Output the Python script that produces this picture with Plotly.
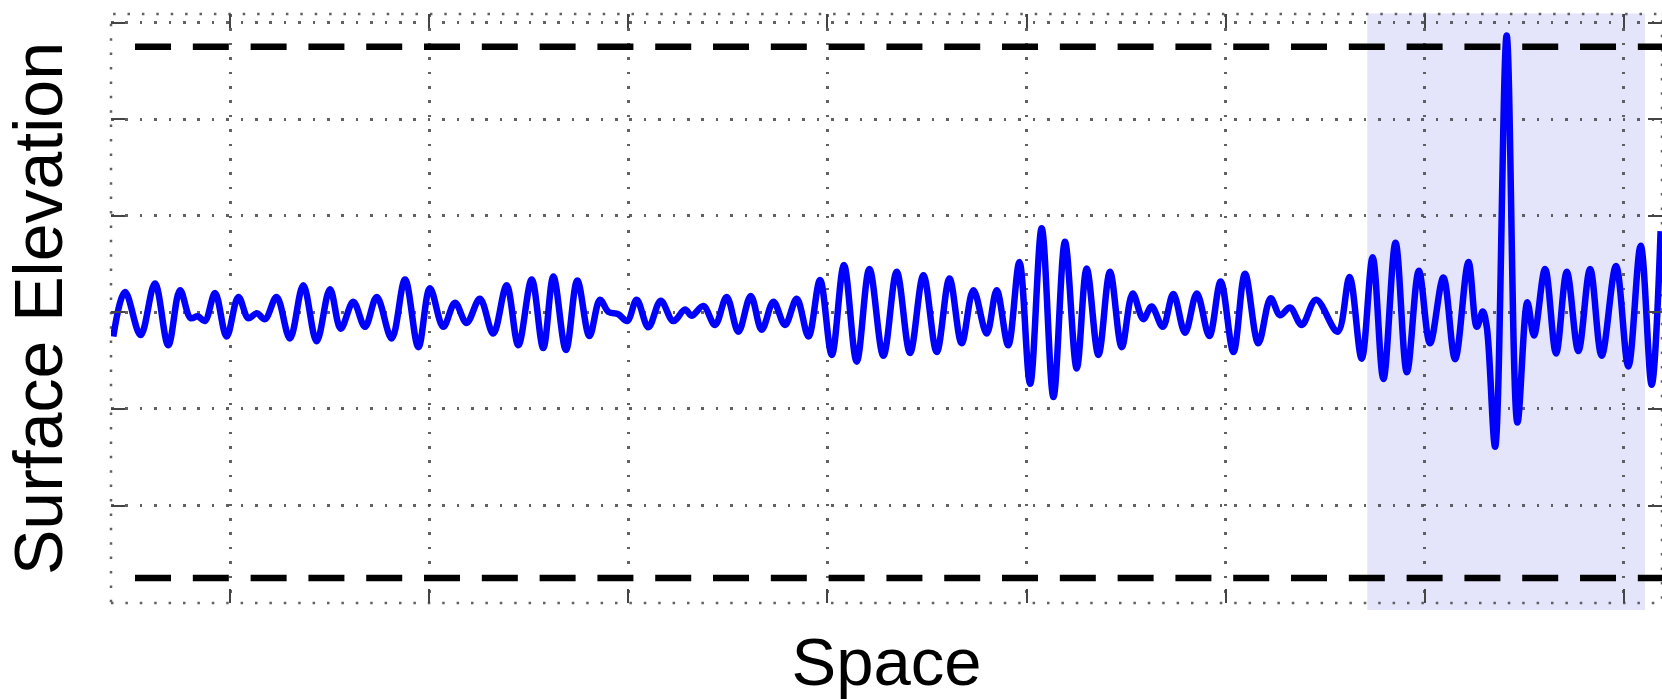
import plotly.graph_objects as go

# ---- data ----
space = [
    0.414, 0.473, 0.551, 0.623, 0.690, 0.749, 0.802, 0.838, 0.874, 0.925,
    0.983, 1.042, 1.092, 1.134, 1.176, 1.234, 1.301, 1.368, 1.435, 1.502,
    1.556, 1.619, 1.678, 1.737, 1.812, 1.879, 1.946, 2.004, 2.071, 2.130,
    2.188, 2.255, 2.322, 2.389, 2.448, 2.515, 2.573,
    2.624, 2.687, 2.744, 2.805, 2.858, 2.900, 2.950, 2.995, 3.042, 3.101,
    3.163, 3.226, 3.285, 3.318, 3.377, 3.436, 3.494, 3.553, 3.615, 3.670,
    3.729, 3.787, 3.846, 3.905, 3.963, 4.022, 4.083, 4.147, 4.211, 4.281,
    4.348, 4.415, 4.482, 4.549, 4.613, 4.674, 4.733, 4.800,
    4.850, 4.908, 4.964, 5.018, 5.076, 5.135, 5.193, 5.252, 5.302, 5.361,
    5.419, 5.478, 5.533, 5.586, 5.628, 5.684, 5.737, 5.796, 5.855, 5.918,
    5.975, 6.039, 6.097, 6.164, 6.226, 6.273, 6.323, 6.382, 6.454, 6.562,
    6.622, 6.683, 6.738, 6.792, 6.853, 6.910, 6.970, 7.026, 7.093, 7.152,
    7.219, 7.261, 7.291, 7.311, 7.353, 7.411, 7.465, 7.515, 7.548, 7.604,
    7.659, 7.713, 7.771, 7.830, 7.888, 7.960, 8.022, 8.084, 8.139, 8.184,
]
elevation = [
    -0.25, 0.21, -0.235, 0.30, -0.34, 0.23, -0.06, -0.04, -0.09, 0.20,
    -0.25, 0.16, -0.06, -0.01, -0.07, 0.16, -0.27, 0.28, -0.30, 0.24,
    -0.17, 0.11, -0.15, 0.16, -0.27, 0.34, -0.36, 0.25, -0.15, 0.10,
    -0.11, 0.14, -0.22, 0.28, -0.34, 0.34, -0.37,
    0.37, -0.39, 0.33, -0.245, 0.13, 0.005, -0.02, -0.09, 0.13, -0.155,
    0.12, -0.09, 0.03, -0.035, 0.065, -0.13, 0.16, -0.20, 0.17, -0.18,
    0.11, -0.13, 0.14, -0.25, 0.335, -0.44, 0.49, -0.51, 0.45, -0.45,
    0.42, -0.42, 0.385, -0.41, 0.35, -0.32, 0.23, -0.22,
    0.23, -0.34, 0.52, -0.74, 0.87, -0.875, 0.73, -0.58, 0.455, -0.44,
    0.42, -0.36, 0.195, -0.07, 0.06, -0.15, 0.19, -0.21, 0.195, -0.245,
    0.32, -0.41, 0.40, -0.32, 0.145, -0.03, 0.05, -0.13, 0.13, -0.20,
    0.365, -0.48, 0.57, -0.69, 0.72, -0.62, 0.43, -0.32, 0.36, -0.485,
    0.52, -0.15, 0.01, -0.15, -1.39, 2.865, -1.14, 0.105, -0.24, 0.45,
    -0.425, 0.42, -0.40, 0.45, -0.45, 0.48, -0.56, 0.69, -0.75, 0.84,
]

threshold_levels = [2.75, -2.75]
threshold_span = [0.523, 8.191]
highlight_span = [6.711, 8.106]

x_range = [0.4024, 8.191]
y_range = [-3.008, 3.088]

FONT = "Liberation Sans, Arial, Helvetica, sans-serif"
GRID_DASH = "2.5px,11.9px"
GRID_COLOR = "rgba(80,80,80,0.9)"

fig = go.Figure()

for lvl in threshold_levels:
    fig.add_trace(go.Scatter(
        x=threshold_span, y=[lvl, lvl], mode="lines",
        line=dict(color="black", width=6.5, dash="36px,21.8px"),
        hoverinfo="skip", showlegend=False,
    ))

fig.add_trace(go.Scatter(
    x=space, y=elevation, mode="lines",
    line=dict(color="#0000FF", width=6.5, shape="spline", smoothing=1.0),
    showlegend=False, name="Surface Elevation",
))

# highlighted region
fig.add_shape(type="rect", xref="x", yref="paper",
              x0=highlight_span[0], x1=highlight_span[1], y0=-0.012, y1=1.001,
              fillcolor="#E4E4FB", line=dict(width=0), layer="below")

# dotted box edges
fig.add_shape(type="rect", xref="paper", yref="paper", x0=0, x1=1, y0=0, y1=1,
              line=dict(color=GRID_COLOR, width=2.5, dash=GRID_DASH), layer="below")

axis_common = dict(
    showgrid=True, gridcolor=GRID_COLOR, gridwidth=2.5, griddash=GRID_DASH,
    zeroline=False, showline=False, showticklabels=False,
    ticks="inside", ticklen=14, tickwidth=2, tickcolor="#444444",
    mirror="ticks", automargin=False,
)

fig.update_xaxes(range=x_range, tick0=0, dtick=1,
                 title=dict(text="Space", font=dict(family=FONT, size=67, color="black"),
                            standoff=36),
                 **axis_common)
fig.update_yaxes(range=y_range, tick0=0, dtick=1,
                 title=dict(text="Surface Elevation",
                            font=dict(family=FONT, size=68, color="black"),
                            standoff=30),
                 **axis_common)

fig.update_layout(
    width=1662, height=699,
    margin=dict(l=111, r=0, t=14, b=96),
    paper_bgcolor="white", plot_bgcolor="white",
    showlegend=False,
)

fig.write_html("out.html")
